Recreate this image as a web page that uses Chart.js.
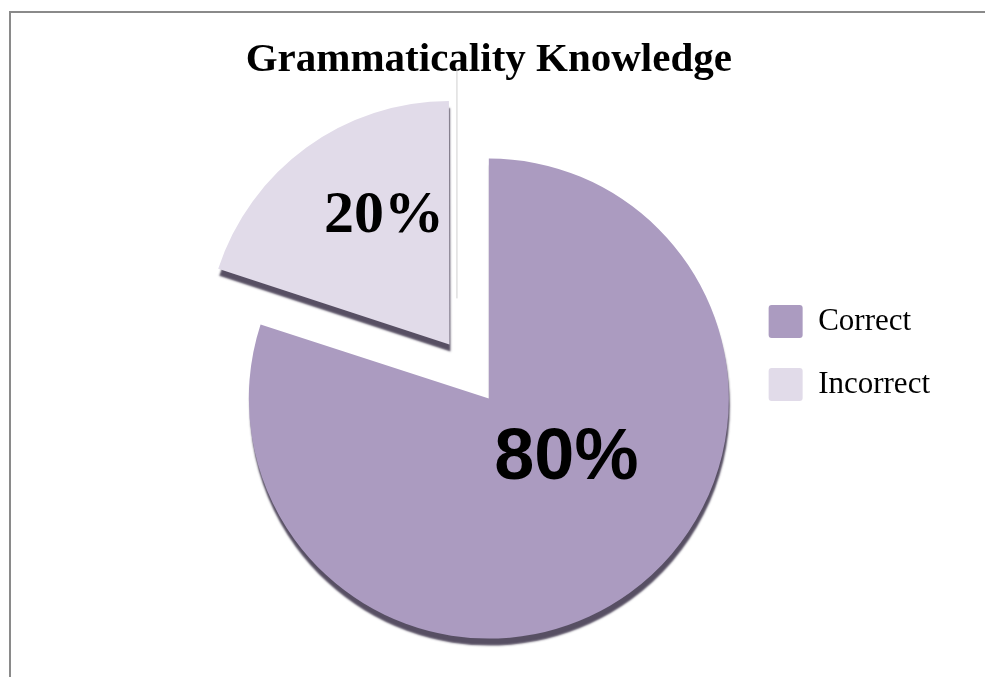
<!DOCTYPE html>
<html>
<head>
<meta charset="utf-8">
<script src="https://cdn.jsdelivr.net/npm/chart.js@4/dist/chart.umd.min.js"></script>
<style>
  html, body { margin: 0; padding: 0; background: #fff; }
  #wrap { position: relative; width: 985px; height: 677px; overflow: hidden; }
  /* the grey chart-area frame, only its top and left edges are in view */
  #frame { position: absolute; left: 9px; top: 11px; width: 1000px; height: 700px;
           border-top: 2px solid #8a8a8a; border-left: 2px solid #8a8a8a; }
  canvas { position: absolute; left: 0; top: 0; }
</style>
</head>
<body>
<div id="wrap">
  <div id="frame"></div>
  <canvas id="chart" width="985" height="677"></canvas>
</div>
<script>
const categories = ['Correct', 'Incorrect'];
const shares = [80, 20];
const sliceColors = ['#AB9BC0', '#E1DBE9'];
const explode = [0, 268];

// where each percentage sits inside its slice (fraction of radius, turn off the mid angle)
const labelSpots = [
  { frac: 0.41, turn: -16, font: 'bold 72px "Liberation Sans", Arial, sans-serif' },
  { frac: 0.60, turn: 9, font: 'bold 60px "Liberation Serif", "Times New Roman", serif' }
];

// dark offset under the slices, gives the flat 3D rim
const rimShadow = {
  id: 'rimShadow',
  beforeDatasetsDraw(chart) {
    const ctx = chart.ctx;
    ctx.save();
    ctx.shadowColor = 'rgba(58, 48, 72, 0.85)';
    ctx.shadowBlur = 2;
    ctx.shadowOffsetX = 1;
    ctx.shadowOffsetY = 7;
  },
  afterDatasetsDraw(chart) {
    chart.ctx.restore();
  }
};

const sliceLabels = {
  id: 'sliceLabels',
  afterDraw(chart) {
    const ctx = chart.ctx;
    const meta = chart.getDatasetMeta(0);
    meta.data.forEach((arc, i) => {
      const { x, y, startAngle, endAngle, outerRadius } =
        arc.getProps(['x', 'y', 'startAngle', 'endAngle', 'outerRadius'], true);
      const mid = (startAngle + endAngle) / 2;
      const shift = (arc.options.offset || 0) / 4;
      const cx = x + Math.cos(mid) * shift;
      const cy = y + Math.sin(mid) * shift;
      const spot = labelSpots[i];
      const a = mid + spot.turn * Math.PI / 180;
      ctx.save();
      // faint leader line left over beside the exploded slice
      if (shift > 0) {
        ctx.strokeStyle = '#cfcfcf';
        ctx.lineWidth = 1;
        ctx.beginPath();
        ctx.moveTo(cx + 7.5, chart.titleBlock.top + 40);
        ctx.lineTo(cx + 7.5, cy - 46);
        ctx.stroke();
      }
      ctx.font = spot.font;
      ctx.fillStyle = '#000';
      ctx.textAlign = 'center';
      ctx.textBaseline = 'middle';
      ctx.fillText(shares[i] + '%', cx + Math.cos(a) * outerRadius * spot.frac,
                   cy + Math.sin(a) * outerRadius * spot.frac);
      ctx.restore();
    });
  }
};

new Chart(document.getElementById('chart'), {
  type: 'pie',
  data: {
    labels: categories,
    datasets: [{
      data: shares,
      backgroundColor: sliceColors,
      borderWidth: 0,
      offset: explode,
      radius: 240,
      clip: false
    }]
  },
  options: {
    responsive: false,
    animation: false,
    layout: { padding: { top: 29, right: 45, bottom: 0, left: 239 } },
    plugins: {
      title: {
        display: true,
        fullSize: false,
        text: 'Grammaticality Knowledge',
        color: '#000',
        font: { family: '"Liberation Serif", "Times New Roman", serif', size: 41, weight: 'bold' },
        padding: { top: 7, bottom: 35 }
      },
      legend: {
        position: 'right',
        labels: {
          color: '#000',
          font: { family: '"Liberation Serif", "Times New Roman", serif', size: 31 },
          boxWidth: 34,
          boxHeight: 33,
          padding: 30,
          useBorderRadius: true,
          borderRadius: 3
        }
      },
      tooltip: { enabled: false }
    }
  },
  plugins: [rimShadow, sliceLabels]
});
</script>
</body>
</html>
